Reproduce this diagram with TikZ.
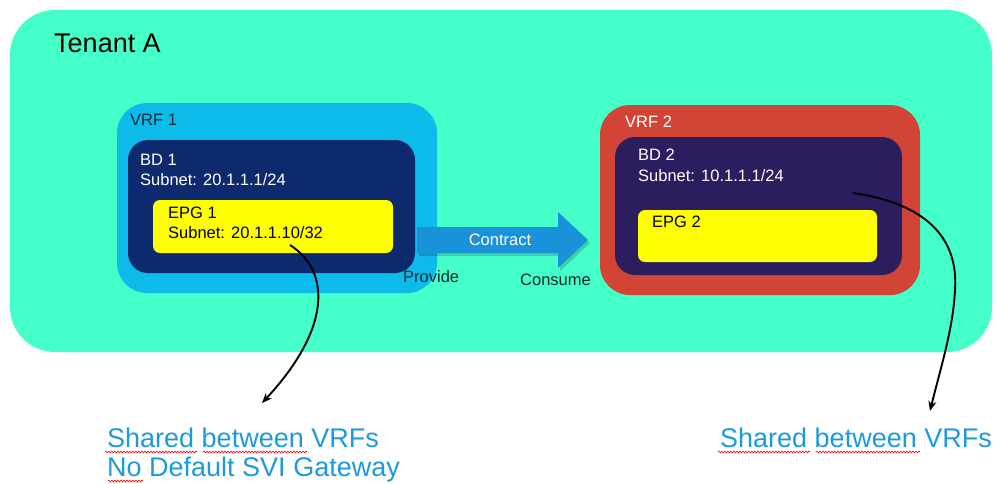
\documentclass[tikz,border=0pt]{standalone}
\usepackage{fontspec}
\setmainfont{Liberation Sans}
\usetikzlibrary{arrows.meta,decorations.pathmorphing}
\definecolor{tenantc}{HTML}{45FFC9}
\definecolor{vrfonec}{HTML}{0DBBEB}
\definecolor{bdonec}{HTML}{0E2A6E}
\definecolor{epgc}{HTML}{FFFF00}
\definecolor{vrftwoc}{HTML}{D24436}
\definecolor{bdtwoc}{HTML}{2B1D5E}
\definecolor{contractc}{HTML}{1A92D9}
\definecolor{notec}{HTML}{1B9BDB}
\definecolor{darkc}{HTML}{0F2A30}
\begin{document}
\begin{tikzpicture}[x=1pt,y=-1pt,
  rbox/.style={inner sep=0pt,outer sep=0pt,draw=none},
  small/.style={inner sep=0pt,anchor=base west,font=\fontsize{16.5}{20}\selectfont},
  big/.style={inner sep=0pt,anchor=base west,font=\fontsize{27}{35}\selectfont},
  pointer/.style={draw=black,line width=1.9pt,-{Stealth[length=10pt,width=8pt]}},
  squiggle/.style={draw=red,line width=0.6pt,decorate,decoration={snake,segment length=3pt,amplitude=0.9pt}}]
\useasboundingbox (0,0) rectangle (998,483);
% containers
\node[rbox,fill=tenantc,rounded corners=45pt,minimum width=982pt,minimum height=342pt] (tenant) at (501,181) {};
\node[big] (tenantlbl) at (54,52) {Tenant A};
\node[rbox,fill=vrfonec,rounded corners=30pt,minimum width=320pt,minimum height=190pt] (vrf1) at (277,198) {};
\node[small,text=darkc] (vrf1lbl) at (130,125) {VRF 1};
\node[rbox,fill=bdonec,rounded corners=20pt,minimum width=287pt,minimum height=133pt] (bd1) at (271.5,206.5) {};
\node[small,text=white] (bd1lbl) at (140,165) {BD 1};
\node[small,text=white] (bd1sub) at (140,185) {Subnet: 20.1.1.1/24};
\node[rbox,fill=epgc,rounded corners=7pt,minimum width=240pt,minimum height=53pt] (epg1) at (273,226.5) {};
\node[small,text=black] (epg1lbl) at (168,218) {EPG 1};
\node[small,text=black] (epg1sub) at (168,238) {Subnet: 20.1.1.10/32};
\node[rbox,fill=vrftwoc,rounded corners=30pt,minimum width=320pt,minimum height=190pt] (vrf2) at (760,200) {};
\node[small,text=white] (vrf2lbl) at (625,127) {VRF 2};
\node[rbox,fill=bdtwoc,rounded corners=20pt,minimum width=287pt,minimum height=138pt] (bd2) at (758.5,206) {};
\node[small,text=white] (bd2lbl) at (638,160) {BD 2};
\node[small,text=white] (bd2sub) at (638,181) {Subnet: 10.1.1.1/24};
\node[rbox,fill=epgc,rounded corners=7pt,minimum width=239pt,minimum height=52pt] (epg2) at (757.5,236) {};
\node[small,text=black] (epg2lbl) at (652,227) {EPG 2};
% contract arrow
\fill[black,opacity=0.18] (419,230) -- (560,230) -- (560,215) -- (590,243) -- (560,271) -- (560,256) -- (419,256) -- cycle;
\fill[contractc] (417,227) -- (558,227) -- (558,212) -- (588,240) -- (558,268) -- (558,253) -- (417,253) -- cycle;
\node[small,anchor=center,text=white] (contract) at (500,240) {Contract};
\node[small,text=darkc] (provide) at (403,282) {Provide};
\node[small,text=darkc] (consume) at (520,285) {Consume};
% notes
\node[big,text=notec] (note1a) at (107,447) {Shared between VRFs};
\node[big,text=notec] (note1b) at (107,476.5) {No Default SVI Gateway};
\node[big,text=notec] (note2) at (720,447) {Shared between VRFs};
\draw[squiggle] (105,452) -- (197,452);
\draw[squiggle] (203,452) -- (307,452);
\draw[squiggle] (108,481) -- (143,481);
\draw[squiggle] (718,452) -- (810,452);
\draw[squiggle] (816,452) -- (920,452);
% pointers
\coordinate (s1) at (290,245);
\coordinate (e1) at (262,403);
\coordinate (s2) at (853,193);
\coordinate (e2) at (930,411);
\draw[pointer] (s1) .. controls (332,272) and (330,330) .. (e1);
\draw[pointer] (s2) .. controls (935,205) and (958,245) .. (955,290) .. controls (953,330) and (940,370) .. (e2);
\end{tikzpicture}
\end{document}
